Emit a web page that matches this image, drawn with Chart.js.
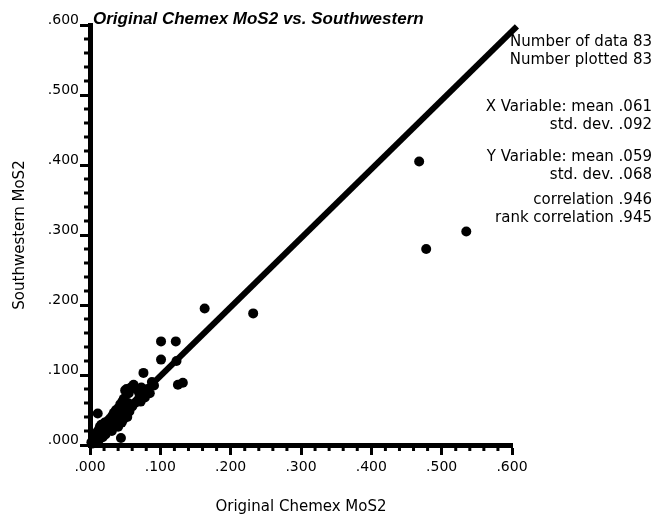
<!DOCTYPE html>
<html>
<head>
<meta charset="utf-8">
<script src="https://cdn.jsdelivr.net/npm/chart.js@4/dist/chart.umd.min.js"></script>
<style>
  body { margin: 0; background: #fff; }
</style>
</head>
<body>
<canvas id="chart" width="656" height="520"></canvas>
<script>
// Original Chemex MoS2 (x) vs Southwestern MoS2 (y)
var chemex = [
  0.468, 0.478, 0.535, 0.163, 0.232, 0.101, 0.122, 0.101, 0.123, 0.076,
  0.125, 0.132, 0.091, 0.073, 0.044, 0.011, 0.005,
  0.002, 0.003, 0.004, 0.005, 0.006, 0.007, 0.008, 0.009, 0.010, 0.011,
  0.012, 0.013, 0.014, 0.015, 0.016, 0.017, 0.018, 0.019, 0.020, 0.021,
  0.022, 0.024, 0.025, 0.026, 0.028, 0.029, 0.030, 0.031, 0.032, 0.033,
  0.034, 0.035, 0.036, 0.037, 0.038, 0.039, 0.040, 0.041, 0.042, 0.043,
  0.044, 0.045, 0.046, 0.047, 0.048, 0.049, 0.050, 0.051, 0.052, 0.053,
  0.054, 0.055, 0.056, 0.058, 0.060, 0.062, 0.064, 0.066, 0.068, 0.070,
  0.072, 0.075, 0.078, 0.082, 0.085, 0.088
];
var southwestern = [
  0.405, 0.280, 0.305, 0.195, 0.188, 0.148, 0.148, 0.122, 0.120, 0.103,
  0.086, 0.089, 0.085, 0.082, 0.010, 0.045, 0.010,
  0.004, 0.002, 0.006, 0.003, 0.008, 0.005, 0.014, 0.007, 0.018, 0.010,
  0.021, 0.008, 0.026, 0.013, 0.029, 0.017, 0.011, 0.024, 0.019, 0.032,
  0.015, 0.028, 0.020, 0.035, 0.022, 0.038, 0.027, 0.020, 0.042, 0.031,
  0.046, 0.026, 0.037, 0.050, 0.032, 0.044, 0.026, 0.053, 0.037, 0.058,
  0.045, 0.032, 0.062, 0.036, 0.066, 0.046, 0.078, 0.052, 0.080, 0.040,
  0.060, 0.074, 0.048, 0.082, 0.055, 0.086, 0.060, 0.080, 0.064, 0.074,
  0.062, 0.078, 0.068, 0.080, 0.074, 0.090
];
// reference line, end points
var lineX = [0, 0.607];
var lineY = [0, 0.598];

var statLabels = [
  "Number of data 83", "Number plotted 83",
  "X Variable: mean .061", "std. dev. .092",
  "Y Variable: mean .059", "std. dev. .068",
  "correlation .946", "rank correlation .945"
];
var chartTitle = "Original Chemex MoS2 vs. Southwestern";

function fmt(v) {
  return "." + String(Math.round(v * 1000)).padStart(3, "0");
}
function isMajor(v) {
  return Math.abs(v * 10 - Math.round(v * 10)) < 1e-6;
}

var points = [];
for (var i = 0; i < chemex.length; i++) {
  points.push({ x: chemex[i], y: southwestern[i] });
}
var linePts = [];
for (var j = 0; j < lineX.length; j++) {
  linePts.push({ x: lineX[j], y: lineY[j] });
}

var SANS = "'DejaVu Sans', sans-serif";
var ARIAL = "'Liberation Sans', Arial, sans-serif";

// minor ticks every .020, title and the stats block
var extras = {
  id: "extras",
  afterDraw: function (chart) {
    var c = chart.ctx;
    var xs = chart.scales.x, ys = chart.scales.y;
    c.save();
    c.strokeStyle = "#000";
    c.lineWidth = 3;
    for (var k = 1; k < 30; k++) {
      var v = k * 0.02;
      if (isMajor(v)) continue;
      var py = ys.getPixelForValue(v);
      c.beginPath();
      c.moveTo(ys.right - 6, py);
      c.lineTo(ys.right, py);
      c.stroke();
      var px = xs.getPixelForValue(v);
      c.beginPath();
      c.moveTo(px, xs.top);
      c.lineTo(px, xs.top + 6);
      c.stroke();
    }
    c.fillStyle = "#000";
    c.font = "italic bold 17px " + ARIAL;
    c.textAlign = "left";
    c.textBaseline = "alphabetic";
    c.fillText(chartTitle, 93, 24);

    c.font = "15px " + SANS;
    c.textAlign = "right";
    c.textBaseline = "middle";
    var ypos = [42, 60, 107, 125, 157, 175, 200, 218];
    for (var s = 0; s < statLabels.length; s++) {
      c.fillText(statLabels[s], 652, ypos[s]);
    }
    c.restore();
  }
};

new Chart(document.getElementById("chart").getContext("2d"), {
  type: "scatter",
  data: {
    datasets: [
      {
        data: points,
        backgroundColor: "#000",
        borderWidth: 0,
        pointRadius: 5,
        clip: false
      },
      {
        data: linePts,
        showLine: true,
        borderColor: "#000",
        borderWidth: 6,
        pointRadius: 0,
        clip: false
      }
    ]
  },
  options: {
    responsive: false,
    animation: false,
    devicePixelRatio: 1,
    layout: { padding: { left: 2, right: 144, top: 25, bottom: 2 } },
    plugins: {
      legend: { display: false },
      tooltip: { enabled: false }
    },
    scales: {
      x: {
        type: "linear",
        min: 0,
        max: 0.6,
        afterFit: function (s) { s.height = 73; },
        border: { display: true, color: "#000", width: 5 },
        grid: { drawOnChartArea: false, drawTicks: true, tickLength: 10, tickColor: "#000", tickWidth: 3 },
        ticks: {
          stepSize: 0.1,
          color: "#000",
          padding: 4,
          font: { family: SANS, size: 14 },
          callback: function (v) { return fmt(v); }
        },
        title: {
          display: true,
          text: "Original Chemex MoS2",
          color: "#000",
          font: { family: SANS, size: 15 },
          padding: { top: 4, bottom: 2 }
        }
      },
      y: {
        type: "linear",
        min: 0,
        max: 0.6,
        afterFit: function (s) { s.width = 88; },
        border: { display: true, color: "#000", width: 5 },
        grid: { drawOnChartArea: false, drawTicks: true, tickLength: 10, tickColor: "#000", tickWidth: 3 },
        ticks: {
          stepSize: 0.1,
          color: "#000",
          padding: 1,
          labelOffset: -5,
          font: { family: SANS, size: 14 },
          callback: function (v) { return fmt(v); }
        },
        title: {
          display: true,
          text: "Southwestern MoS2",
          color: "#000",
          font: { family: SANS, size: 15 },
          padding: { top: 9, bottom: 4 }
        }
      }
    }
  },
  plugins: [extras]
});
</script>
</body>
</html>
